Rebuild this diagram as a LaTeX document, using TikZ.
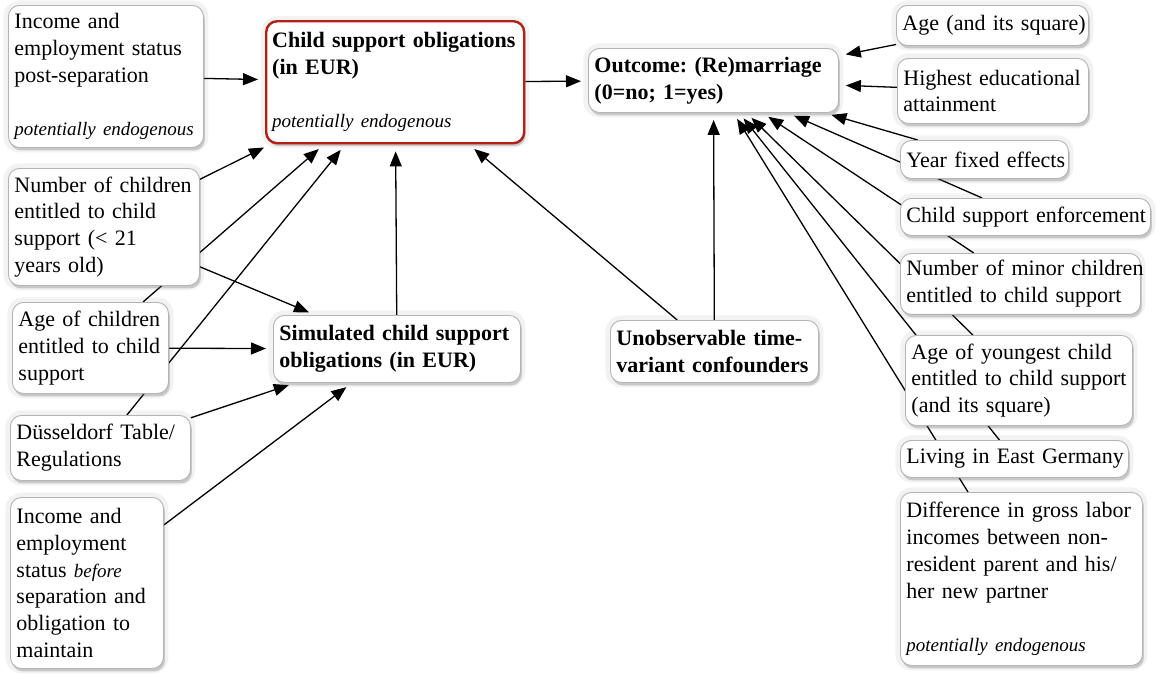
\documentclass[tikz,border=0pt]{standalone}
\usepackage{fontspec}
\setmainfont{Liberation Serif}
\usetikzlibrary{shadows,arrows.meta,backgrounds}
\definecolor{cred}{RGB}{180,32,22}
\definecolor{bgray}{RGB}{180,180,180}
\newcommand{\itx}[1]{\mbox{\fontsize{19}{26.8}\selectfont\itshape #1}}
\frenchspacing
\tikzset{
  box/.style={draw=bgray, line width=0.9pt, fill=white, rounded corners=11pt,
    anchor=north west, align=left, inner xsep=6pt, inner ysep=7pt,
    font=\fontsize{22}{26.8}\selectfont\frenchspacing,
    preaction={draw=black, draw opacity=0.05, line width=10pt},
    drop shadow={shadow xshift=1.5pt, shadow yshift=-3pt, opacity=0.3, fill=black!60}},
  redbox/.style={box, draw=cred, line width=2.4pt},
  bbox/.style={box, font=\fontsize{22}{26.8}\selectfont\bfseries\frenchspacing},
  arr/.style={-{Triangle[length=15pt,width=12pt]}, line width=1.3pt, shorten >=7pt},
}
\begin{document}
\begin{tikzpicture}[x=1pt,y=-1pt]
\useasboundingbox (0,0) rectangle (1156,673);
% left column
\node[box, text width=183pt, minimum height=142pt] (inc1) at (8,5)
  {Income and\\\mbox{employment status}\\post-separation\\[26.8pt]\itx{potentially endogenous}};
\node[box, text width=179pt, minimum height=117pt] (nch) at (8,168)
  {\mbox{Number of children}\\entitled to child\\support (< 21\\years old)};
\node[box, text width=144pt, minimum height=91pt] (agech) at (12,302)
  {Age of children\\entitled to child\\support};
\node[box, text width=168pt, minimum height=65pt] (dus) at (10,415)
  {\mbox{Düsseldorf Table/}\\Regulations};
\node[box, text width=141pt, minimum height=171pt] (inc2) at (10,497)
  {Income and\\employment\\status \itx{before}\\separation and\\obligation to\\maintain};
% middle
\node[redbox, text width=246pt, minimum height=122pt] (cso) at (265,20)
  {\textbf{\mbox{Child support obligations}}\\\textbf{(in EUR)}\\[26.8pt]\itx{potentially endogenous}};
\node[bbox, text width=235pt, minimum height=67pt] (sim) at (273,315)
  {\mbox{Simulated child support}\\obligations (in EUR)};
\node[bbox, text width=196pt, minimum height=62pt] (unobs) at (610,320)
  {\mbox{Unobservable time-}\\variant confounders};
\node[bbox, text width=238pt, minimum height=64pt] (out) at (588,48)
  {\mbox{Outcome: (Re)marriage}\\(0=no; 1=yes)};
% right column
\node[box, text width=180pt, minimum height=40pt] (age) at (896,5)
  {\mbox{Age (and its square)}};
\node[box, text width=179pt, minimum height=65pt] (edu) at (897,58)
  {\mbox{Highest educational}\\attainment};
\node[box, text width=156pt, minimum height=38pt] (year) at (900,140)
  {\mbox{Year fixed effects}};
\node[box, text width=238pt, minimum height=37pt] (cse) at (900,198)
  {\mbox{Child support enforcement}};
\node[box, text width=228pt, minimum height=59pt] (nminor) at (900,253)
  {\mbox{Number of minor children}\\\mbox{entitled to child support}};
\node[box, text width=215pt, minimum height=90pt] (young) at (905,335)
  {\mbox{Age of youngest child}\\\mbox{entitled to child support}\\(and its square)};
\node[box, text width=216pt, minimum height=37pt] (east) at (900,440)
  {\mbox{Living in East Germany}};
\node[box, text width=230pt, minimum height=173pt] (diff) at (900,492)
  {\mbox{Difference in gross labor}\\\mbox{incomes between non-}\\\mbox{resident parent and his/}\\her new partner\\[26.8pt]\itx{potentially endogenous}};
% connectors
\begin{pgfonlayer}{background}
\draw[arr] (inc1) -- (cso);
\draw[arr] (nch) -- (cso);
\draw[arr] (agech) -- (cso);
\draw[arr] (dus) -- (cso);
\draw[arr] (sim) -- (cso);
\draw[arr] (unobs) -- (cso);
\draw[arr] (nch) -- (sim);
\draw[arr] (agech) -- (sim);
\draw[arr] (dus) -- (sim);
\draw[arr] (inc2) -- (sim);
\draw[arr] (cso) -- (out);
\draw[arr] (unobs) -- (out);
\draw[arr] (age) -- (out);
\draw[arr] (edu) -- (out);
\draw[arr] (year) -- (out);
\draw[arr] (cse) -- (out);
\draw[arr] (nminor) -- (out);
\draw[arr] (young) -- (out);
\draw[arr] (east) -- (out);
\draw[arr] (diff) -- (out);
\end{pgfonlayer}
\end{tikzpicture}
\end{document}
